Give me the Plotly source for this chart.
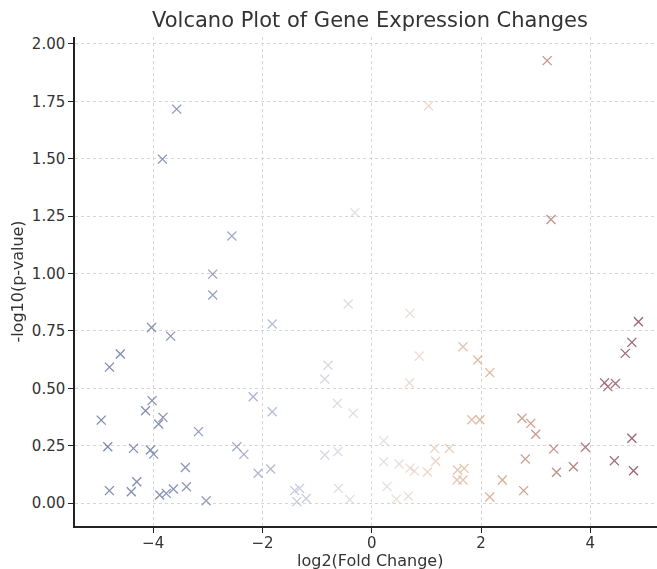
import plotly.graph_objects as go

log2_fc = [
    -4.95, -4.83, -4.80, -4.80, -4.60, -4.40, -4.36, -4.30, -4.14, -4.05,
    -4.03, -4.02, -3.99, -3.90, -3.88, -3.83, -3.82, -3.76, -3.68, -3.63,
    -3.57, -3.41, -3.39, -3.17, -3.03, -2.91, -2.91, -2.56, -2.47, -2.34,
    -2.17, -2.08, -1.85, -1.82, -1.82, -1.41, -1.32, -1.37, -1.20, -0.86,
    -0.86, -0.80, -0.62, -0.63, -0.61, -0.43, -0.40, -0.34, -0.31,
    0.22, 0.22, 0.28, 0.45, 0.50, 0.67, 0.69, 0.70, 0.70, 0.78,
    0.87, 1.02, 1.04, 1.15, 1.17, 1.42, 1.57, 1.69, 1.56, 1.67,
    1.67, 1.83, 1.94, 1.98, 2.16, 2.16, 2.39, 2.75, 2.78, 2.81,
    2.91, 3.00, 3.21, 3.28, 3.33, 3.38, 3.69, 3.91, 4.26, 4.32,
    4.44, 4.46, 4.64, 4.76, 4.76, 4.79, 4.88,
]
neg_log10_p = [
    0.361, 0.245, 0.054, 0.592, 0.649, 0.049, 0.238, 0.093, 0.402, 0.231,
    0.765, 0.446, 0.213, 0.344, 0.035, 1.498, 0.373, 0.042, 0.727, 0.061,
    1.716, 0.155, 0.071, 0.311, 0.010, 0.997, 0.906, 1.163, 0.245, 0.212,
    0.463, 0.130, 0.148, 0.780, 0.398, 0.054, 0.064, 0.006, 0.020, 0.209,
    0.540, 0.600, 0.224, 0.434, 0.064, 0.867, 0.015, 0.391, 1.265,
    0.271, 0.180, 0.072, 0.017, 0.170, 0.030, 0.524, 0.826, 0.152, 0.139,
    0.640, 0.135, 1.730, 0.238, 0.182, 0.238, 0.144, 0.151, 0.100, 0.100,
    0.681, 0.363, 0.623, 0.363, 0.568, 0.026, 0.100, 0.369, 0.054, 0.192,
    0.347, 0.300, 1.927, 1.235, 0.236, 0.134, 0.158, 0.243, 0.524, 0.507,
    0.184, 0.521, 0.652, 0.700, 0.282, 0.141, 0.790,
]

x_ticks = [-4, -2, 0, 2, 4]
y_ticks = [0.0, 0.25, 0.5, 0.75, 1.0, 1.25, 1.5, 1.75, 2.0]

colorscale = [
    [0.0, "#5f6a98"],
    [0.1, "#67739f"],
    [0.2, "#7c87b0"],
    [0.3, "#9ea6c4"],
    [0.4, "#c6c9da"],
    [0.5, "#e0dce0"],
    [0.6, "#e6cebf"],
    [0.7, "#d8a886"],
    [0.8, "#bb8470"],
    [0.9, "#995a62"],
    [1.0, "#7a3a50"],
]

fig = go.Figure()
fig.add_trace(go.Scatter(
    x=log2_fc, y=neg_log10_p, mode="markers",
    marker=dict(
        symbol="x-thin", size=9,
        line=dict(width=1.3, color=log2_fc, colorscale=colorscale, cmin=-5, cmax=5),
    ),
    opacity=0.8,
    showlegend=False,
))

font_family = "DejaVu Sans"
fig.update_layout(
    width=657, height=569,
    margin=dict(l=75, r=0, t=37, b=43),
    paper_bgcolor="white", plot_bgcolor="white",
    font=dict(family=font_family, color="#333333"),
    title=dict(text="Volcano Plot of Gene Expression Changes", x=370 / 657, xref="container",
               xanchor="center", y=1 - 20 / 569, yanchor="middle",
               font=dict(size=21, color="#333333", family=font_family)),
)
fig.add_annotation(
    text="log2(Fold Change)", xref="paper", yref="paper",
    x=(370 - 75) / 582, y=-(560 - 526) / 489, xanchor="center", yanchor="middle",
    showarrow=False, font=dict(size=16, color="#333333", family=font_family),
)
fig.update_xaxes(
    range=[-5.43, 5.22], tickmode="array", tickvals=x_ticks, automargin=False,
    showgrid=True, gridcolor="#d6d6d6", griddash="dot", gridwidth=1,
    zeroline=False, showline=True, linecolor="#222222", linewidth=1.5,
    ticks="outside", ticklen=5, tickcolor="#222222", ticklabelstandoff=-3,
    tickfont=dict(size=15, color="#333333"),
)
fig.update_yaxes(
    range=[-0.1, 2.03], tickmode="array", tickvals=y_ticks, tickformat=".2f", automargin=False,
    showgrid=True, gridcolor="#d6d6d6", griddash="dot", gridwidth=1,
    zeroline=False, showline=True, linecolor="#222222", linewidth=1.5,
    ticks="outside", ticklen=5, tickcolor="#222222",
    tickfont=dict(size=15, color="#333333"),
    title=dict(text="-log10(p-value)", font=dict(size=16, color="#333333"), standoff=4),
)

fig.write_html("out.html")
